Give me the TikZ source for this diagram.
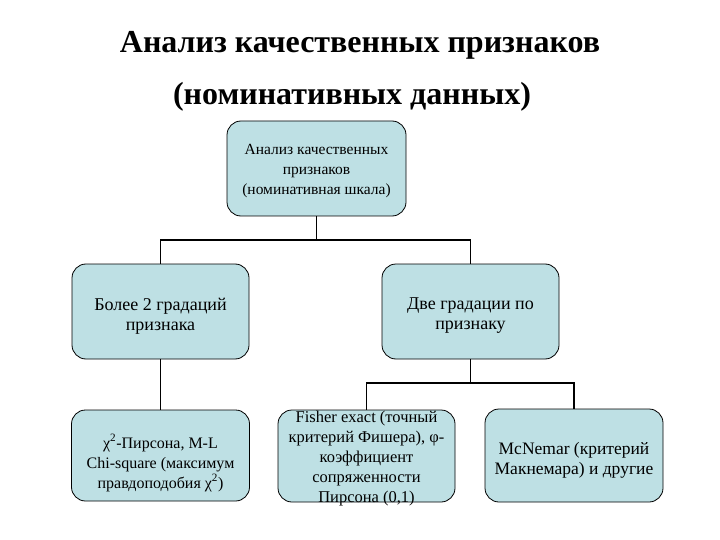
\documentclass[tikz,border=0pt]{standalone}
\usepackage{fontspec}
\setmainfont{Liberation Serif}
\definecolor{boxfill}{RGB}{190,224,228}
\begin{document}
\begin{tikzpicture}[x=1pt,y=-1pt,
  box/.style={draw=black, line width=0.8pt, fill=boxfill, rounded corners=14pt, inner sep=0pt},
  txt/.style={align=center, inner sep=0pt},
  conn/.style={line width=1.6pt},
  ttl/.style={anchor=base, font=\bfseries\fontsize{32}{38}\selectfont}]
\useasboundingbox (0,0) rectangle (720,540);
\node[ttl] (t1) at (360,53) {Анализ качественных признаков};
\node[ttl] (t2) at (352,105) {(номинативных данных)};
% boxes
\node[box, minimum width=179pt, minimum height=95pt] (top) at (316.5,168.5) {};
\node[box, minimum width=177pt, minimum height=95pt] (ml) at (160.5,311.5) {};
\node[box, minimum width=177pt, minimum height=95pt] (mr) at (470.5,311.5) {};
\node[box, minimum width=178pt, minimum height=91pt] (bl) at (160.5,455.5) {};
\node[box, minimum width=177pt, minimum height=92pt] (fi) at (366.5,456) {};
\node[box, minimum width=178pt, minimum height=93pt] (mc) at (574,455.5) {};
% texts
\node[txt, font=\fontsize{15.5}{20}\selectfont] (topT) at (316.5,171) {Анализ качественных\\признаков\\(номинативная шкала)};
\node[txt, font=\fontsize{18}{20}\selectfont] (mlT) at (160.5,316) {Более 2 градаций\\признака};
\node[txt, font=\fontsize{18}{20}\selectfont] (mrT) at (470.5,316) {Две градации по\\признаку};
\node[txt, font=\fontsize{16}{20}\selectfont] (blT) at (160.5,463) {χ\textsuperscript{2}-Пирсона, M-L\\Chi-square (максимум\\правдоподобия χ\textsuperscript{2})};
\node[txt, font=\fontsize{16.5}{20}\selectfont] (fiT) at (366.5,459) {Fisher exact (точный\\критерий Фишера), φ-\\коэффициент\\сопряженности\\Пирсона (0,1)};
\node[txt, font=\fontsize{17.5}{20}\selectfont] (mcT) at (574,460) {McNemar (критерий\\Макнемара) и другие};
% connectors
\coordinate (j1) at (316.5,240);
\coordinate (j2) at (470.5,383);
\draw[conn] (top.south) -- (j1);
\draw[conn] (ml.north) |- (j1) -| (mr.north);
\draw[conn] (ml.south) -- (bl.north);
\draw[conn] (mr.south) -- (j2);
\draw[conn] (fi.north) |- (j2) -| (mc.north);
\end{tikzpicture}
\end{document}
